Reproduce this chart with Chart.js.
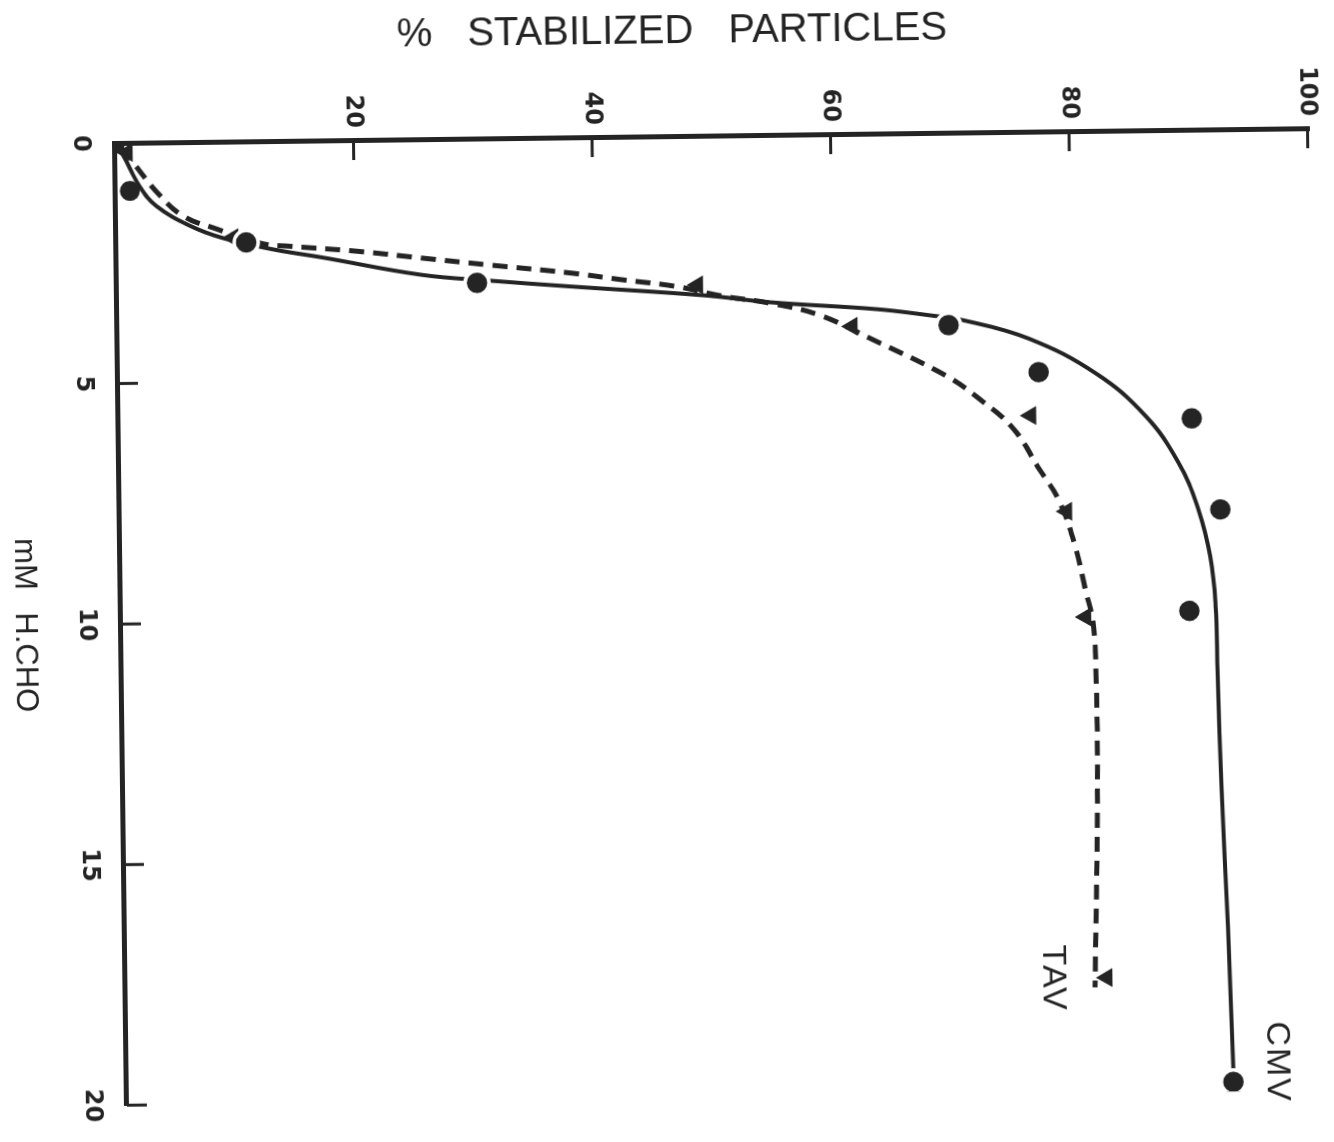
<!DOCTYPE html>
<html>
<head>
<meta charset="utf-8">
<script src="https://cdn.jsdelivr.net/npm/chart.js@4"></script>
<style>
  html, body { margin: 0; padding: 0; background: #fff; overflow: hidden; width: 1334px; height: 1142px; }
  /* the plot is laid out with concentration along x, then turned a quarter turn clockwise */
  #frame { position: absolute; left: -28px; top: -1076px; width: 1142px; height: 1334px;
           transform-origin: 143px 1219px; transform: rotate(89.29deg); }
  canvas { display: block; }
</style>
</head>
<body>
<div id="frame"><canvas id="c" width="1142" height="1334"></canvas></div>
<script>
// Formaldehyde concentration (mM) and % stabilized particles, measured points
const cmvConc = [0, 1.0, 2.1, 3.0, 4.0, 5.0, 6.0, 7.9, 10.0, 19.8];
const cmvPct  = [0, 1.2, 10.9, 30.2, 69.7, 77.2, 90.0, 92.3, 89.6, 92.8];
const tavConc = [0.2, 2.0, 3.1, 4.0, 5.9, 7.9, 10.1, 17.6];
const tavPct  = [1.0, 9.8, 48.7, 61.6, 76.5, 79.4, 80.9, 82.3];

// Hand-drawn fitted curves, traced along their length
const cmvCurveConc = [0, 0.25, 0.9, 1.32, 1.74, 2.0, 2.25, 2.43, 2.82, 2.96, 3.10, 3.32, 3.48, 3.65, 3.79, 3.90, 4.30, 5.04, 5.93, 6.90, 7.85, 8.87, 9.9, 11.3, 13.7, 16.6, 19.5, 19.75];
const cmvCurvePct  = [0, 0.66, 2.0, 3.4, 6.2, 8.9, 13.1, 17.2, 25.6, 31.4, 38.1, 49.3, 54.8, 63.7, 68.1, 70.9, 76.4, 82.0, 86.1, 88.8, 90.4, 91.4, 91.8, 91.9, 92.1, 92.5, 92.8, 92.8];
const tavCurveConc = [0.1, 0.41, 1.03, 1.53, 1.81, 2.13, 2.19, 2.31, 2.47, 2.63, 2.82, 2.97, 3.13, 3.33, 3.50, 3.76, 4.29, 5.06, 5.54, 6.16, 6.99, 7.69, 8.64, 9.54, 10.2, 11.2, 13.7, 17.8];
const tavCurvePct  = [0.5, 1.5, 3.45, 5.6, 8.4, 12.25, 14.5, 20.1, 25.6, 31.2, 38.1, 42.3, 47.0, 50.6, 54.8, 58.9, 63.4, 69.5, 72.2, 75.0, 77.1, 78.8, 80.1, 80.9, 81.5, 81.7, 81.7, 81.3];

// Axis ticks and titles
const concTicks = [0, 5, 10, 15, 20];
const pctTicks  = [0, 20, 40, 60, 80, 100];
const concTitle = 'mM H.CHO';
const pctTitle  = '% STABILIZED PARTICLES';
const seriesNames = ['CMV', 'TAV'];

const INK = '#242424';
const toPoints = (xs, ys) => xs.map((x, i) => ({ x, y: ys[i] }));

// Spacing and placement of the two axis titles
const titleSpacing = {
  x: { word: 14, letter: 0, centerValue: null },
  y: { word: 24, letter: 0, centerValue: 46.8 }
};
const titleSpacingPlugin = {
  id: 'titleSpacing',
  beforeDraw(chart) {
    Object.keys(titleSpacing).forEach(id => {
      const scale = chart.scales[id];
      if (!scale || scale.$spaced) return;
      const orig = scale.drawTitle;
      const cfg = titleSpacing[id];
      scale.drawTitle = function () {
        const ctx = this.ctx;
        ctx.save();
        ctx.wordSpacing = cfg.word + 'px';
        ctx.letterSpacing = cfg.letter + 'px';
        if (cfg.centerValue !== null) {
          const shift = this.getPixelForValue(cfg.centerValue) - (this.top + this.bottom) / 2;
          ctx.translate(0, shift);
        }
        orig.call(this);
        ctx.restore();
      };
      scale.$spaced = true;
    });
  }
};

// Short tick marks pointing into the plot from each axis
const innerTicksPlugin = {
  id: 'innerTicks',
  afterDatasetsDraw(chart) {
    const { ctx, scales: { x, y } } = chart;
    const len = 20;
    ctx.save();
    ctx.strokeStyle = INK;
    ctx.lineWidth = 3;
    x.ticks.forEach(t => {
      if (t.value === 0) return;
      const px = x.getPixelForValue(t.value);
      ctx.beginPath(); ctx.moveTo(px, x.top); ctx.lineTo(px, x.top - len); ctx.stroke();
    });
    y.ticks.forEach(t => {
      if (t.value === 0) return;
      const py = y.getPixelForValue(t.value);
      ctx.beginPath(); ctx.moveTo(y.right, py); ctx.lineTo(y.right + len, py); ctx.stroke();
    });
    ctx.restore();
  }
};

// Series names written beside the ends of the curves
const seriesLabelPlugin = {
  id: 'seriesLabels',
  afterDatasetsDraw(chart, args, opts) {
    const { ctx, scales: { x, y } } = chart;
    ctx.save();
    ctx.fillStyle = INK;
    ctx.font = opts.font;
    ctx.textAlign = 'center';
    ctx.textBaseline = 'middle';
    ctx.letterSpacing = '2px';
    opts.anchors.forEach(a => {
      ctx.fillText(chart.data.datasets[a.dataset].label, x.getPixelForValue(a.conc), y.getPixelForValue(a.pct));
    });
    ctx.restore();
  }
};

new Chart(document.getElementById('c'), {
  type: 'scatter',
  data: {
    datasets: [
      {
        label: seriesNames[0],
        data: toPoints(cmvConc, cmvPct),
        showLine: false,
        pointStyle: 'circle',
        pointRadius: c => (c.dataIndex < 2 ? 10 : 12),
        pointBackgroundColor: INK,
        pointBorderColor: '#fff',
        pointBorderWidth: c => (c.dataIndex < 2 ? 0 : 3.5),
        order: 0
      },
      {
        label: seriesNames[1],
        data: toPoints(tavConc, tavPct),
        showLine: false,
        pointStyle: 'triangle',
        pointRotation: 180,
        pointRadius: 11,
        pointBackgroundColor: INK,
        pointBorderWidth: 0,
        order: 1
      },
      {
        label: seriesNames[0] + ' fit',
        data: toPoints(cmvCurveConc, cmvCurvePct),
        showLine: true,
        pointRadius: 0,
        borderColor: INK,
        borderWidth: 4,
        tension: 0.4,
        order: 3
      },
      {
        label: seriesNames[1] + ' fit',
        data: toPoints(tavCurveConc, tavCurvePct),
        showLine: true,
        pointRadius: 0,
        borderColor: INK,
        borderWidth: 5,
        borderDash: [15, 9],
        tension: 0.4,
        order: 2
      }
    ]
  },
  options: {
    responsive: false,
    animation: false,
    events: [],
    layout: { padding: { top: 21, right: 22, left: 0, bottom: 0 } },
    plugins: {
      legend: { display: false },
      tooltip: { enabled: false },
      seriesLabels: {
        font: '34px "Liberation Sans"',
        anchors: [
          { dataset: 0, conc: 19.4, pct: 96.5 },
          { dataset: 1, conc: 17.6, pct: 77.8 }
        ]
      }
    },
    scales: {
      x: {
        type: 'linear',
        position: 'bottom',
        min: 0,
        max: 20,
        afterBuildTicks: s => { s.ticks = concTicks.map(v => ({ value: v })); },
        afterFit: s => { s.height = 115; },
        ticks: {
          font: { family: 'DejaVu Sans', weight: 'bold', size: 24 },
          color: INK,
          padding: 20,
          minRotation: 0,
          maxRotation: 0,
          autoSkip: false
        },
        grid: { drawOnChartArea: false, drawTicks: false },
        border: { color: INK, width: 5 },
        title: {
          display: true,
          text: concTitle,
          color: INK,
          font: { family: 'Liberation Sans', size: 31 },
          padding: { top: 0, bottom: 0 }
        }
      },
      y: {
        type: 'linear',
        position: 'left',
        min: 0,
        max: 100,
        afterBuildTicks: s => { s.ticks = pctTicks.map(v => ({ value: v })); },
        afterFit: s => { s.width = 143; },
        ticks: {
          font: { family: 'DejaVu Sans', weight: 'bold', size: 24 },
          color: INK,
          padding: 12,
          callback: v => (v === 0 ? '' : String(v))
        },
        grid: { drawOnChartArea: false, drawTicks: false },
        border: { color: INK, width: 5 },
        title: {
          display: true,
          text: pctTitle,
          color: INK,
          font: { family: 'Liberation Sans', size: 40 },
          padding: { top: 15, bottom: 0 }
        }
      }
    }
  },
  plugins: [titleSpacingPlugin, innerTicksPlugin, seriesLabelPlugin]
});
</script>
</body>
</html>
